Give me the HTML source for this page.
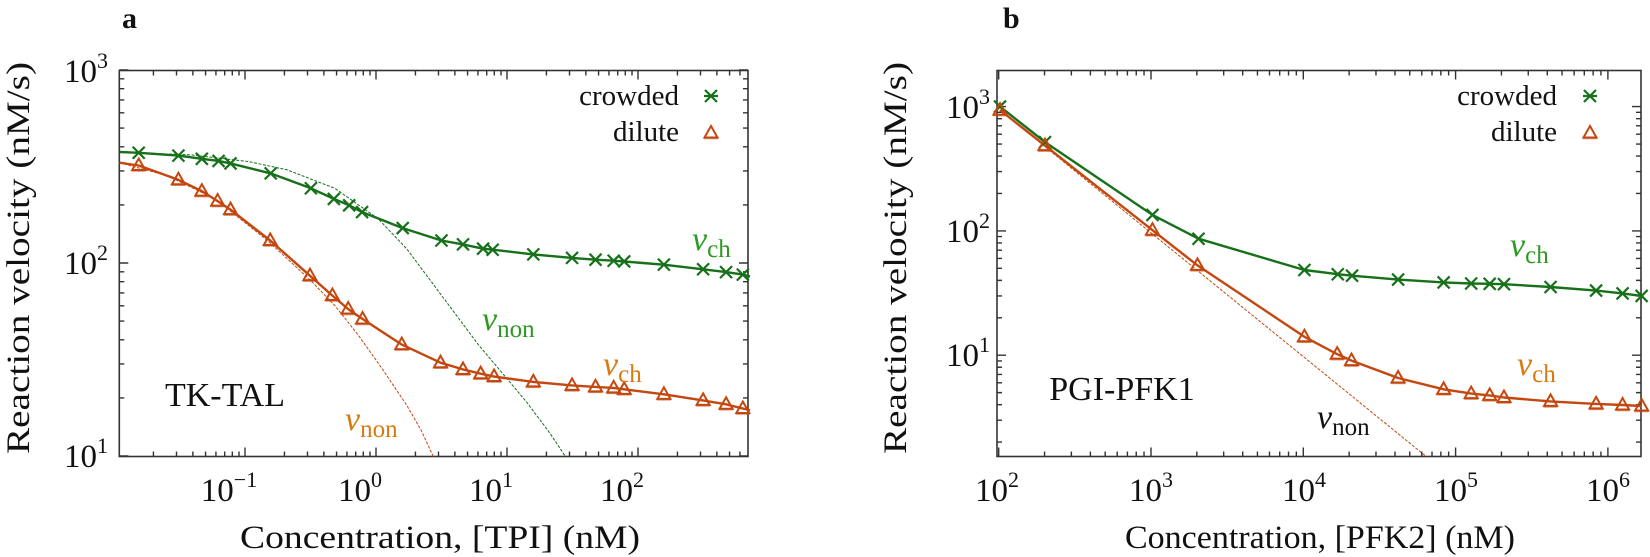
<!DOCTYPE html>
<html><head><meta charset="utf-8"><style>
html,body{margin:0;padding:0;background:#fff;}
svg{display:block;}
text{font-family:"Liberation Serif",serif;fill:#111;}
</style></head><body>
<svg id="s" width="1650" height="557" xmlns="http://www.w3.org/2000/svg"></svg>
<script>
const S=document.getElementById('s');const NS='http://www.w3.org/2000/svg';
function html(s){S.insertAdjacentHTML('beforeend',s);}
const G='#17701a',O='#c4470f',GL='#2a9a20',OL='#d97a10';
const ax=zx=>zx/2.0907, ay=zy=>zy/2.815;
const bx=zx=>820+zx*0.5294, by=zy=>zy/2.815;
function poly(pts,fx,fy,col,w,dash){return `<polyline fill="none" stroke="${col}" stroke-width="${w}" ${dash?'stroke-dasharray="'+dash+'"':''} stroke-linejoin="round" points="${pts.map(p=>fx(p[0]).toFixed(1)+','+fy(p[1]).toFixed(1)).join(' ')}"/>`;}
function cross(x,y,c){return `<path d="M${x-6},${y-6}L${x+6},${y+6}M${x-6},${y+6}L${x+6},${y-6}" stroke="${c}" stroke-width="2.2" fill="none"/>`;}
function star(x,y,c){return cross(x,y,c)+`<path d="M${x-7},${y}H${x+7}" stroke="${c}" stroke-width="2.2"/>`;}
function tri(x,y,c){return `<path d="M${x},${y-7}L${x+6.5},${y+4.5}L${x-6.5},${y+4.5}Z" stroke="${c}" stroke-width="2" fill="none"/><path d="M${x-7},${y+5.5}H${x+7}" stroke="${c}" stroke-width="1.5" opacity=".6"/>`;}
function frame(L,R,T,B,xdec,ydec){
 let s=`<rect x="${L}" y="${T}" width="${R-L}" height="${B-T}" fill="none" stroke="#333" stroke-width="1.6"/>`;
 const xs=xdec.px, x0=xdec.v0;
 for(let d=xdec.from;d<=xdec.to;d++){for(let m=1;m<10;m++){const p=x0+(d+Math.log10(m))*xs;if(p<L-0.5||p>R+0.5)continue;const len=m==1?9:5;s+=`<path d="M${p},${B}v${-len}M${p},${T}v${len}" stroke="#333" stroke-width="1.4"/>`;}}
 const ys=ydec.px,y0=ydec.v0;
 for(let d=ydec.from;d<=ydec.to;d++){for(let m=1;m<10;m++){const p=y0-(d+Math.log10(m))*ys;if(p<T-0.5||p>B+0.5)continue;const len=m==1?9:5;s+=`<path d="M${L},${p}h${len}M${R},${p}h${-len}" stroke="#333" stroke-width="1.4"/>`;}}
 return s;}
let h='';
h+=frame(119.3,748,70.5,456.5,{px:131,v0:376,from:-2,to:3},{px:193,v0:263+2*193,from:1,to:3});
const aC=[[290,430],[373,438],[422,447],[457,453],[482,460],[566,488],[650,530],[698,560],[730,578],[757,597],[842,642],[923,677],[968,688],[1010,700],[1030,703],[1115,716],[1196,726],[1245,731],[1283,734],[1305,736],[1388,745],[1470,758],[1518,766],[1553,773]];
const aD=[[290,466],[373,506],[422,538],[455,566],[482,590],[565,677],[648,776],[695,832],[728,870],[758,898],[840,970],[921,1021],[968,1040],[1005,1052],[1033,1060],[1115,1075],[1196,1085],[1245,1089],[1283,1092],[1305,1096],[1388,1110],[1470,1127],[1518,1138],[1553,1150]];
h+=poly([[250,428],[400,436],[520,455],[600,478],[700,530],[790,615],[850,700],[900,790],[950,880],[1000,970],[1050,1050],[1100,1130],[1150,1220],[1182,1285]],ax,ay,G,1,'3,1.5');
h+=poly([[250,458],[350,495],[450,560],[560,678],[650,790],[700,860],[750,945],[800,1040],[850,1140],[880,1210],[906,1285]],ax,ay,O,1,'3,1.5');
h+=poly([[250,428]].concat(aC,[[1568,778]]),ax,ay,G,2.4);
h+=poly([[250,458]].concat(aD,[[1568,1155]]),ax,ay,O,2.4);
aC.forEach(p=>h+=cross(ax(p[0]),ay(p[1]),G));
aD.forEach(p=>h+=tri(ax(p[0]),ay(p[1]),O));
h+=frame(997,1641,70.5,456.5,{px:152.3,v0:1151-3*152.3,from:2,to:6},{px:124.3,v0:106.6+3*124.3,from:0,to:3});
const bC=[[340,300],[425,400],[628,605],[715,672],[915,760],[978,772],[1005,776],[1092,787],[1178,795],[1230,798],[1265,799],[1292,800],[1380,808],[1466,818],[1516,826],[1552,833]];
const bD=[[340,310],[425,410],[628,648],[713,747],[915,948],[977,997],[1004,1015],[1092,1064],[1178,1096],[1230,1108],[1265,1113],[1292,1119],[1380,1130],[1466,1137],[1516,1140],[1552,1143]];
h+=poly([[340,310],[1145,1285]],bx,by,O,1,'3,1.5');
h+=poly(bC,bx,by,G,2.4);
h+=poly(bD,bx,by,O,2.4);
bC.forEach(p=>h+=cross(bx(p[0]),by(p[1]),G));
bD.forEach(p=>h+=tri(bx(p[0]),by(p[1]),O));
html(h);
let t='';
const F=33;
function pw(x,y,e,anchor){return `<text x="${x}" y="${y}" font-size="${F}" text-anchor="${anchor||'end'}">10<tspan font-size="22" dy="-14">${e}</tspan></text>`;}
t+=pw(108,82,'3')+pw(108,274,'2')+pw(108,467,'1');
[[245,'−1'],[376,'0'],[507,'1'],[638,'2']].forEach(([x,e])=>{t+=`<text x="${x-16}" y="501" font-size="${F}" text-anchor="middle">10<tspan font-size="22" dy="-14">${e}</tspan></text>`;});
t+=pw(990,118,'3')+pw(990,242,'2')+pw(990,366,'1');
[[997,'2'],[1151,'3'],[1304,'4'],[1456,'5'],[1608,'6']].forEach(([x,e])=>{t+=`<text x="${x}" y="501" font-size="${F}" text-anchor="middle">10<tspan font-size="22" dy="-14">${e}</tspan></text>`;});
const LA='lengthAdjust="spacingAndGlyphs"';
t+=`<text x="440" y="548" font-size="33" text-anchor="middle" textLength="400" ${LA}>Concentration, [TPI] (nM)</text>`;
t+=`<text x="1320" y="548" font-size="33" text-anchor="middle" textLength="390" ${LA}>Concentration, [PFK2] (nM)</text>`;
t+=`<text transform="translate(29,258) rotate(-90)" font-size="33" text-anchor="middle" textLength="392" ${LA}>Reaction velocity (nM/s)</text>`;
t+=`<text transform="translate(906,258) rotate(-90)" font-size="33" text-anchor="middle" textLength="392" ${LA}>Reaction velocity (nM/s)</text>`;
t+=`<text x="122" y="28" font-size="30" font-weight="bold">a</text>`;
t+=`<text x="1003" y="28" font-size="30" font-weight="bold">b</text>`;
t+=`<text x="679" y="105" font-size="29" text-anchor="end">crowded</text>`+`<text x="679" y="141" font-size="29" text-anchor="end">dilute</text>`;
t+=`<text x="1557" y="105" font-size="29" text-anchor="end">crowded</text>`+`<text x="1557" y="141" font-size="29" text-anchor="end">dilute</text>`;
t+=star(711,96,G)+tri(711,133,O)+star(1590,96,G)+tri(1590,133,O);
function v(x,y,sub,c){return `<text x="${x}" y="${y}" font-size="34" font-style="italic" style="fill:${c}">v<tspan font-style="normal" font-size="25" dy="7">${sub}</tspan></text>`;}
t+=v(692,250,'ch',GL)+v(482,330,'non',GL)+v(603,375,'ch',OL)+v(345,430,'non',OL);
t+=v(1510,256,'ch',GL)+v(1517,375,'ch',OL)+v(1317,428,'non','#111');
t+=`<text x="225" y="406" font-size="34" text-anchor="middle">TK-TAL</text>`;
t+=`<text x="1122" y="400" font-size="34" text-anchor="middle">PGI-PFK1</text>`;
html(t);
</script>
</body></html>
